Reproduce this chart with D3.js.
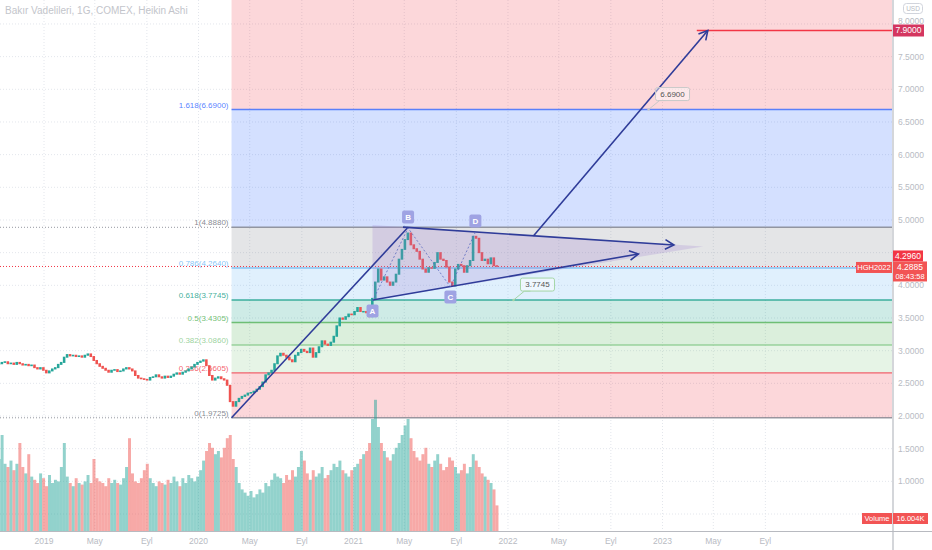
<!DOCTYPE html>
<html>
<head>
<meta charset="utf-8">
<title>Bakır Vadelileri, 1G, COMEX, Heikin Ashi</title>
<style>
  body { margin: 0; background: #fff; }
  svg { display: block; font-family: "Liberation Sans", Arial, sans-serif; }
</style>
</head>
<body>
<svg id="chart" width="932" height="550"></svg>
<script src="https://d3js.org/d3.v7.min.js"></script>
<script>

// weekly closes (USD/lb), first week starts 2018-09-17
var startWeek = new Date(2018, 8, 17);
var closes = [
  2.80, 2.82, 2.83, 2.80, 2.81, 2.79, 2.82, 2.80, 2.78, 2.79,
  2.77, 2.78, 2.74, 2.72, 2.74, 2.70, 2.66, 2.69, 2.72, 2.74,
  2.79, 2.82, 2.90, 2.94, 2.92, 2.93, 2.91, 2.92, 2.90, 2.93,
  2.95, 2.91, 2.85, 2.80, 2.76, 2.73, 2.70, 2.67, 2.70, 2.71,
  2.68,
  2.69, 2.72, 2.74, 2.72, 2.69, 2.62, 2.58, 2.57, 2.56, 2.55,
  2.59, 2.60, 2.63, 2.60, 2.58, 2.61, 2.59, 2.61, 2.64, 2.66,
  2.64, 2.67, 2.69, 2.72, 2.75, 2.79, 2.82, 2.84, 2.86, 2.77,
  2.62, 2.55, 2.58, 2.60, 2.57, 2.55, 2.47, 2.22, 2.15, 2.22,
  2.27, 2.30, 2.32, 2.35, 2.36, 2.38, 2.41, 2.45, 2.52, 2.63,
  2.66, 2.70, 2.80, 2.92, 2.96, 2.93, 2.90, 2.86, 2.83, 2.93,
  2.97, 3.02, 2.99, 2.97, 3.04, 2.90, 2.97, 3.06, 3.15, 3.10,
  3.08, 3.13, 3.22, 3.38, 3.50,
  3.48,
  3.52, 3.56, 3.55, 3.60, 3.66,
  3.60, 3.60, 3.58, 3.52, 3.80, 4.05, 4.25, 4.08, 4.13, 4.05,
  4.00, 4.05, 4.17, 4.40, 4.55, 4.70, 4.80, 4.62, 4.56, 4.52,
  4.40, 4.25, 4.20, 4.27, 4.26, 4.35, 4.50, 4.40, 4.38, 4.28,
  4.05, 3.99, 4.25, 4.32, 4.30, 4.20, 4.30, 4.38, 4.75, 4.72,
  4.50, 4.38, 4.40, 4.33, 4.42, 4.30, 4.29
];

// volume, thousands of contracts
var volumes = [
  45, 60, 42, 40, 44, 38, 42, 55, 40, 36, 48,
  34, 32, 30, 36, 33, 28, 35, 30, 32, 31, 40, 55, 34, 30, 28, 33, 30, 29, 31, 35, 30, 45, 33,
  31, 30, 28, 33, 30, 32,
  30,
  29, 33, 40, 58, 36, 31, 30, 33, 38, 42, 33, 30, 28, 31, 30, 29, 32, 30, 34, 31, 28, 33, 30, 35, 33, 31, 34,
  38, 44, 50, 55, 52, 48, 50, 46, 52, 58, 60, 45, 40,
  30, 26, 24, 22, 25, 21, 23, 26, 24, 30, 28, 32, 36, 34,
  33, 30, 35, 32, 38, 34, 40, 50, 44, 36, 32, 38, 34, 36, 40, 33, 35, 38, 42, 40, 44,
  38,
  36, 34, 38, 40, 42, 45,
  48, 50, 55, 70, 82, 65, 55, 50, 46, 44, 48, 52, 55, 60, 66, 70,
  58, 50, 46, 44, 48, 52, 42, 40, 44, 48, 42, 38, 40, 46, 44, 40, 36, 38, 42, 36, 40, 48, 44, 40, 36, 34, 32, 30, 26, 16
];

// 4.5000 and 0.5000 sit under the red tags, as in the original
var priceTicks = [1, 1.5, 2, 2.5, 3, 3.5, 4, 5, 5.5, 6, 6.5, 7, 7.5, 8];
var timeTicks = ["2019-01-01", "2019-05-01", "2019-09-01", "2020-01-01", "2020-05-01", "2020-09-01",
                 "2021-01-01", "2021-05-01", "2021-09-01", "2022-01-01", "2022-05-01", "2022-09-01",
                 "2023-01-01", "2023-05-01", "2023-09-01"];
var timeLabels = ["2019", "May", "Eyl", "2020", "May", "Eyl", "2021", "May", "Eyl",
                  "2022", "May", "Eyl", "2023", "May", "Eyl"];

// fibonacci retracement drawn from the March 2020 low to the May 2021 high
var fibLow = 1.9725, fibHigh = 4.888, fibStart = "2020-03-19";
var fibLevels = [0, 0.236, 0.382, 0.5, 0.618, 0.786, 1, 1.618, 2.618];
var fibLine  = ["#787b86", "#f23645", "#81c784", "#4caf50", "#089981", "#64b5f6", "#787b86", "#2962ff", "#f23645"];
var fibFill  = ["rgba(242,54,69,0.2)", "rgba(129,199,132,0.2)", "rgba(76,175,80,0.2)", "rgba(8,153,129,0.2)",
                "rgba(100,181,246,0.2)", "rgba(120,123,134,0.2)", "rgba(41,98,255,0.2)", "rgba(242,54,69,0.2)"];

var lastPrice = 4.2885, haPrice = 4.2960, targetPrice = 7.9, lastVolume = "16.004K";

// drawing anchors [date, price]
var trendLine = [["2020-03-19", 1.9725], ["2021-05-10", 4.888]];
var upperLine = [["2021-04-28", 4.89], ["2023-01-28", 4.617]];
var lowerLine = [["2021-02-15", 3.7745], ["2022-11-05", 4.479]];
var wedge = [["2021-02-15", 4.923], ["2023-04-07", 4.594], ["2021-02-15", 3.7745]];
var targetArrow = [["2022-03-02", 4.755], ["2023-04-18", 7.9]];
var targetLine = ["2023-03-23", 7.9];
var waves = [
  {name: "A", date: "2021-02-15", price: 3.76, dy: 10},
  {name: "B", date: "2021-05-10", price: 4.877, dy: -11},
  {name: "C", date: "2021-08-18", price: 3.975, dy: 10},
  {name: "D", date: "2021-10-16", price: 4.815, dy: -11}
];
var callouts = [
  {text: "6.6900", date: "2022-11-29", price: 6.69, stroke: "#c9c9c9"},
  {text: "3.7745", date: "2022-01-14", price: 3.7745, stroke: "#a5d6a7"}
];

var parse = d3.timeParse("%Y-%m-%d");
var W = 932, H = 550, plotR = 892, plotB = 531;

var x = d3.scaleTime().domain([new Date(2019, 0, 1), new Date(2023, 0, 1)]).range([44, 662.5]);
var y = d3.scaleLinear().domain([2, 7]).range([416, 89.3]);
var yv = d3.scaleLinear().domain([0, 100]).range([plotB, plotB - 160]);
var fmt = d3.format(".4f");
function tickRound(p) { return Math.round(p / 0.0005) * 0.0005; }
function px(p) { return [x(parse(p[0])), y(p[1])]; }

var svg = d3.select("#chart");
svg.append("defs").append("clipPath").attr("id", "plot")
  .append("rect").attr("width", plotR).attr("height", plotB);
var plot = svg.append("g").attr("clip-path", "url(#plot)");

// grid
plot.selectAll(".hg").data(priceTicks.concat([4.5, 0.5])).enter().append("line")
  .attr("x1", 0).attr("x2", plotR).attr("y1", function(d) { return y(d); }).attr("y2", function(d) { return y(d); })
  .attr("stroke", "#e3e6ec").attr("stroke-dasharray", "1,2");
plot.selectAll(".vg").data(timeTicks).enter().append("line")
  .attr("y1", 0).attr("y2", plotB).attr("x1", function(d) { return x(parse(d)); }).attr("x2", function(d) { return x(parse(d)); })
  .attr("stroke", "#e3e6ec").attr("stroke-dasharray", "1,2");

// fibonacci bands
var fx0 = x(parse(fibStart));
var fibPrices = fibLevels.map(function(l) { return fibLow + l * (fibHigh - fibLow); });
fibFill.forEach(function(c, i) {
  var top = i === fibFill.length - 1 ? 0 : y(fibPrices[i + 1]);
  plot.append("rect").attr("x", fx0).attr("width", plotR - fx0)
    .attr("y", top).attr("height", y(fibPrices[i]) - top).attr("fill", c);
});
fibLevels.forEach(function(l, i) {
  var yy = y(fibPrices[i]);
  if (yy < 0) return;
  plot.append("line").attr("x1", fx0).attr("x2", plotR).attr("y1", yy).attr("y2", yy)
    .attr("stroke", fibLine[i]).attr("stroke-width", 1.4).attr("stroke-opacity", 0.75);
  plot.append("text").attr("x", fx0 - 3).attr("y", yy - 2).attr("text-anchor", "end")
    .attr("font-size", 8).attr("fill", fibLine[i]).attr("fill-opacity", l === 0 || l === 1 ? 0.9 : 0.8)
    .text(l + "(" + fmt(tickRound(fibPrices[i])) + ")");
});
[0, 1].forEach(function(l) {
  var yy = y(fibLow + l * (fibHigh - fibLow));
  plot.append("line").attr("x1", 0).attr("x2", fx0).attr("y1", yy).attr("y2", yy)
    .attr("stroke", "#9598a1").attr("stroke-dasharray", "1,2");
});

// last price line
plot.append("line").attr("x1", 0).attr("x2", plotR).attr("y1", y(lastPrice)).attr("y2", y(lastPrice))
  .attr("stroke", "#f23645").attr("stroke-dasharray", "1,2");

// weekly candles, each opening at the previous close
var bars = closes.map(function(c, i) {
  var o = i === 0 ? c : closes[i - 1];
  return {date: d3.timeMonday.offset(startWeek, i), open: o, close: c, vol: volumes[i]};
});
var step = x(d3.timeMonday.offset(startWeek, 1)) - x(startWeek);

plot.selectAll(".vol").data(bars).enter().append("rect")
  .attr("x", function(d) { return x(d.date) - step / 2; })
  .attr("width", step)
  .attr("y", function(d) { return yv(d.vol); })
  .attr("height", function(d) { return plotB - yv(d.vol); })
  .attr("fill", function(d) { return d.close >= d.open ? "rgba(38,166,154,0.5)" : "rgba(239,83,80,0.5)"; });

plot.selectAll(".candle").data(bars).enter().append("rect")
  .attr("x", function(d) { return x(d.date) - step / 2; })
  .attr("width", step - 0.4)
  .attr("y", function(d) { return y(Math.max(d.open, d.close)) - 0.5; })
  .attr("height", function(d) { return Math.max(1.5, Math.abs(y(d.open) - y(d.close)) + 1); })
  .attr("fill", function(d) { return d.close >= d.open ? "#26a69a" : "#ef5350"; });

// triangle pattern
plot.append("path")
  .attr("d", "M" + wedge.map(px).map(function(p) { return p.join(","); }).join("L") + "Z")
  .attr("fill", "rgba(149,117,205,0.22)");

var navy = "#2f3c99";
function drawLine(pts, arrow) {
  var a = px(pts[0]), b = px(pts[1]);
  plot.append("line").attr("x1", a[0]).attr("y1", a[1]).attr("x2", b[0]).attr("y2", b[1])
    .attr("stroke", navy).attr("stroke-width", 1.6);
  if (arrow) {
    var ang = Math.atan2(b[1] - a[1], b[0] - a[0]), L = 10, s = 0.5;
    plot.append("path")
      .attr("d", "M" + (b[0] - L * Math.cos(ang - s)) + "," + (b[1] - L * Math.sin(ang - s)) +
                 "L" + b[0] + "," + b[1] +
                 "L" + (b[0] - L * Math.cos(ang + s)) + "," + (b[1] - L * Math.sin(ang + s)))
      .attr("fill", "none").attr("stroke", navy).attr("stroke-width", 1.6);
  }
}
drawLine(trendLine, false);
drawLine(upperLine, true);
drawLine(lowerLine, true);

// target
var tl = [x(parse(targetLine[0])), y(targetLine[1])];
plot.append("line").attr("x1", tl[0]).attr("x2", plotR).attr("y1", tl[1]).attr("y2", tl[1])
  .attr("stroke", "#f23645").attr("stroke-width", 1.6);
drawLine(targetArrow, true);

// wave zigzag
plot.append("path")
  .attr("d", d3.line().x(function(d) { return x(parse(d.date)); }).y(function(d) { return y(d.price); })(waves))
  .attr("fill", "none").attr("stroke", "#5c6bc0").attr("stroke-width", 0.8).attr("stroke-dasharray", "2,2");
var wl = plot.selectAll(".wave").data(waves).enter().append("g")
  .attr("transform", function(d) { return "translate(" + x(parse(d.date)) + "," + (y(d.price) + d.dy) + ")"; });
wl.append("rect").attr("x", -6).attr("y", -6.5).attr("width", 12).attr("height", 13).attr("rx", 2)
  .attr("fill", "#9fa3e3");
wl.append("text").attr("text-anchor", "middle").attr("dy", "0.35em").attr("font-size", 8)
  .attr("font-weight", "bold").attr("fill", "#fff").text(function(d) { return d.name; });

// price callouts
callouts.forEach(function(c) {
  var ax = x(parse(c.date)), ay = y(c.price);
  var bx = ax + 7, by = ay - 22;
  plot.append("path")
    .attr("d", "M" + ax + "," + ay + "L" + (bx + 4) + "," + (by + 13) + "L" + (bx + 10) + "," + (by + 13))
    .attr("fill", "none").attr("stroke", c.stroke).attr("stroke-width", 1);
  plot.append("rect").attr("x", bx).attr("y", by).attr("width", 34).attr("height", 13).attr("rx", 2)
    .attr("fill", "rgba(255,255,255,0.45)").attr("stroke", c.stroke);
  plot.append("text").attr("x", bx + 17).attr("y", by + 6.5).attr("dy", "0.35em").attr("text-anchor", "middle")
    .attr("font-size", 8).attr("fill", "#555").text(c.text);
  plot.append("circle").attr("cx", ax).attr("cy", ay).attr("r", 1.2).attr("fill", c.stroke);
});

// title
svg.append("text").attr("x", 5).attr("y", 14).attr("font-size", 10).attr("fill", "#c3c5cb")
  .text("Bakır Vadelileri, 1G, COMEX, Heikin Ashi");

// axes
svg.append("line").attr("x1", plotR + 1).attr("x2", plotR + 1).attr("y1", 0).attr("y2", H)
  .attr("stroke", "#c6c8ce").attr("stroke-width", 1.5);
svg.append("line").attr("x1", 0).attr("x2", W).attr("y1", plotB + 0.5).attr("y2", plotB + 0.5)
  .attr("stroke", "#b8bac0");

svg.selectAll(".pt").data(priceTicks).enter().append("text")
  .attr("x", 898).attr("y", function(d) { return d === 8 ? y(d) - 3 : y(d); }).attr("dy", "0.35em")
  .attr("font-size", 8.5).attr("fill", "#b8bbc3").text(function(d) { return fmt(d); });
svg.selectAll(".tt").data(timeTicks).enter().append("text")
  .attr("x", function(d) { return x(parse(d)); }).attr("y", 544).attr("text-anchor", "middle")
  .attr("font-size", 8.5).attr("fill", "#b8bbc3").text(function(d, i) { return timeLabels[i]; });

svg.append("rect").attr("x", 903.5).attr("y", 3.5).attr("width", 19).attr("height", 10).attr("rx", 3)
  .attr("fill", "#fff").attr("stroke", "#d1d4dc");
svg.append("text").attr("x", 913).attr("y", 8.5).attr("dy", "0.35em").attr("text-anchor", "middle")
  .attr("font-size", 6.5).attr("fill", "#b8bbc3").text("USD");

function tag(xx, yy, w, h, fill, lines, fs) {
  svg.append("rect").attr("x", xx).attr("y", yy).attr("width", w).attr("height", h).attr("fill", fill);
  lines.forEach(function(t, i) {
    svg.append("text").attr("x", xx + w / 2).attr("y", yy + 5.5 + i * 9).attr("dy", "0.35em")
      .attr("text-anchor", "middle").attr("font-size", i === 0 ? fs : 7.5).attr("fill", "#fff").text(t);
  });
}
tag(plotR + 1, y(targetPrice) - 6, 31, 12, "#d43660", [fmt(targetPrice)], 8.5);
tag(plotR + 1, y(lastPrice) - 16, 30, 11, "#f23645", [fmt(haPrice)], 8.5);
tag(plotR + 1, y(lastPrice) - 5, 34, 20, "#f25454", [fmt(lastPrice), "08:43:58"], 8.5);
tag(plotR - 36, y(lastPrice) - 4.5, 36, 11, "#f25454", ["HGH2022"], 7.5);
tag(plotR - 30, 513, 30, 11, "#f25454", ["Volume"], 7.5);
tag(plotR + 1, 513, 35, 11, "#f25454", [lastVolume], 7.5);

</script>
</body>
</html>
